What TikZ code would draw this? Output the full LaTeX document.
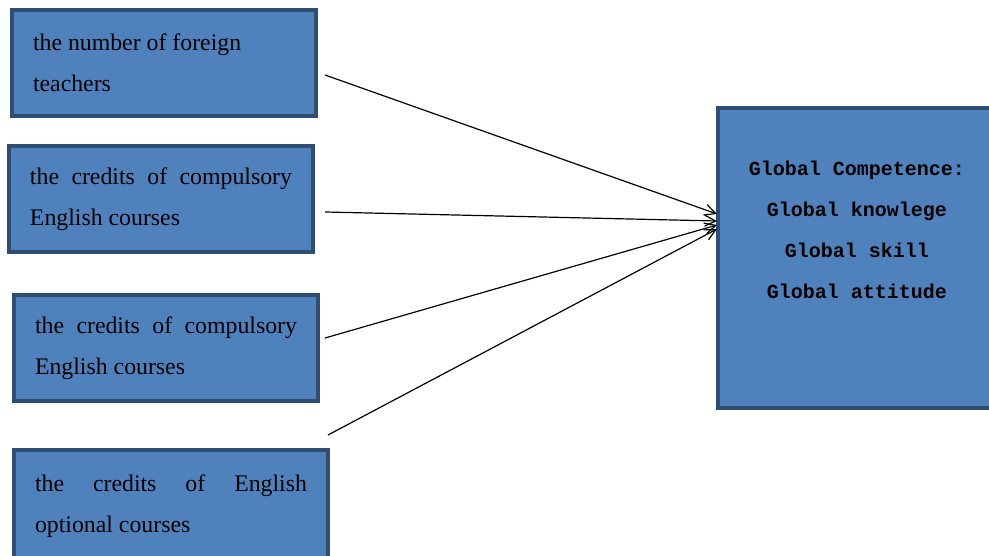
\documentclass[tikz,border=0pt]{standalone}
\usepackage{fontspec}
\setmainfont{Liberation Serif}
\newfontfamily\gcfont{Liberation Mono}
\usetikzlibrary{
  arrows.meta,
  positioning
}
\usepackage{xcolor}
\definecolor{boxBlue}{HTML}{4F81BD}
\definecolor{boxEdge}{HTML}{2F4D73}
\tikzset{
  factor/.style={
    fill=boxBlue,
    draw=boxEdge,
    line width=4pt,
    anchor=north west,
    minimum height=106pt,
    text width=262pt,
    inner xsep=21pt,
    align=justify,
    font=\fontsize{23.8}{41}\selectfont
  },
  goal/.style={
    fill=boxBlue,
    draw=boxEdge,
    line width=4pt,
    anchor=north west,
    minimum width=330pt,
    minimum height=300pt
  },
  goaltext/.style={
    inner sep=0pt,
    align=center,
    font=\gcfont\bfseries\fontsize{20}{41}\selectfont
  },
  link/.style={
    line width=1.2pt
  }
}

\begin{document}
\begin{tikzpicture}[x=1pt,y=-1pt,>={Straight Barb[length=11pt,width=11pt]}]
    \useasboundingbox (0,0) rectangle (989,556);

    \node[factor] (teachers) at (10,8) {the number of foreign\\teachers};
    \node[factor] (compA) at (7,144) {the credits of compulsory\linebreak English courses};
    \node[factor] (compB) at (12,293) {the credits of compulsory\linebreak English courses};
    \node[factor,text width=272pt,minimum height=112pt] (optional) at (12,448) {the credits of English\linebreak optional courses};

    \node[goal] (gc) at (716,106) {};
    \node[goaltext, below=55pt of gc.north, xshift=-26pt] (gctext)
      {Global Competence:\\Global knowlege\\Global skill\\Global attitude};

    \coordinate (s1) at (325,75);
    \coordinate (s2) at (325,212);
    \coordinate (s3) at (325,338);
    \coordinate (s4) at (328,435);
    \coordinate (e1) at (717,214);
    \coordinate (e2) at (717,221);
    \coordinate (e3) at (717,225);
    \coordinate (e4) at (717,229);

    \path[->,link]
    (s1) edge (e1)
    (s2) edge (e2)
    (s3) edge (e3)
    (s4) edge (e4)
        ;
\end{tikzpicture}
\end{document}
